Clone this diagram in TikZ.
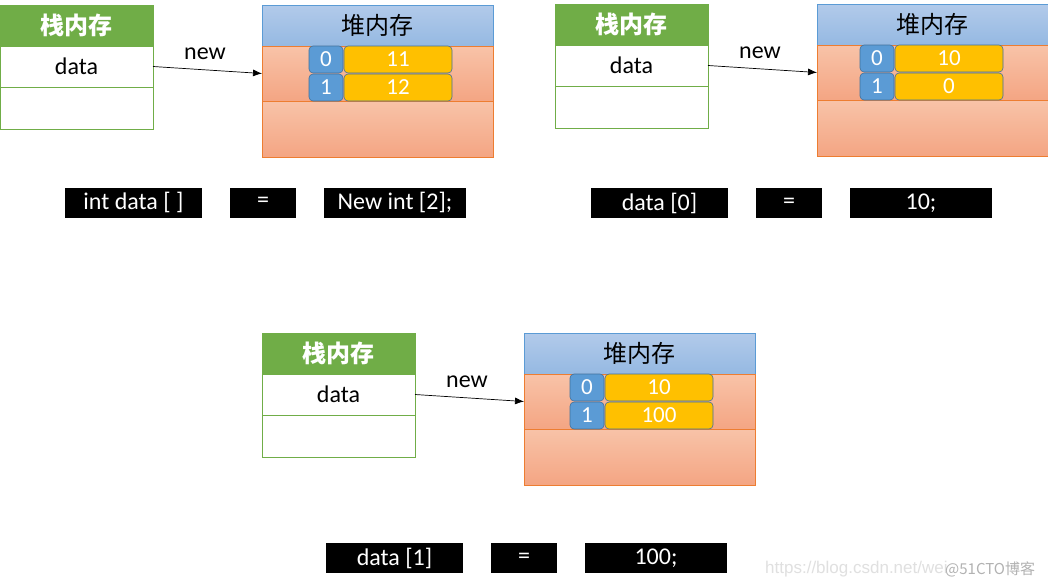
\documentclass[tikz,border=0pt]{standalone}
\usepackage{fontspec}
\usetikzlibrary{arrows.meta}
\setmainfont{Carlito}
\newfontfamily\cjk{Noto Sans CJK SC}
\definecolor{sgreen}{HTML}{70AD47}
\definecolor{hblue}{HTML}{5B9BD5}
\definecolor{hbluetop}{HTML}{B2CAEA}
\definecolor{hbluebot}{HTML}{95B9E2}
\definecolor{horange}{HTML}{ED7D31}
\definecolor{pinktop}{HTML}{F8C3A8}
\definecolor{pinkbot}{HTML}{F4A583}
\definecolor{cellborder}{HTML}{41719C}
\definecolor{cgold}{HTML}{FFC000}
\tikzset{
  base/.style={inner sep=0pt, outer sep=0pt, anchor=north west, font=\fontsize{24}{27}\selectfont},
  stackhead/.style={base, fill=sgreen, draw=sgreen, line width=0.8pt, text=white, minimum width=153pt, minimum height=41pt, font=\cjk\bfseries\fontsize{24}{27}\selectfont},
  stackrow/.style={base, fill=white, draw=sgreen, line width=0.8pt, minimum width=153pt, minimum height=41pt},
  heaphead/.style={base, draw=hblue, line width=0.8pt, top color=hbluetop, bottom color=hbluebot, minimum width=231pt, minimum height=41pt, font=\cjk\fontsize{24}{27}\selectfont},
  heapband/.style={base, draw=horange, line width=0.8pt, top color=pinktop, bottom color=pinkbot, minimum width=231pt},
  idxcell/.style={base, fill=hblue, draw=cellborder, line width=0.6pt, rounded corners=4pt, text=white, minimum width=34pt, minimum height=27pt, font=\fontsize{23}{26}\selectfont},
  valcell/.style={base, fill=cgold, draw=cellborder, line width=0.6pt, rounded corners=4pt, text=white, minimum width=108pt, minimum height=27pt, font=\fontsize{23}{26}\selectfont},
  codebox/.style={inner sep=0pt, fill=black, text=white, minimum height=30pt, font=\fontsize{24}{27}\selectfont},
  ptr/.style={-{Latex[length=9pt,width=7pt]}, line width=0.7pt},
  lbl/.style={inner sep=0pt, font=\fontsize{24}{27}\selectfont}
}
\newcommand\mempanel[6]{%
\begin{scope}[shift={(#2,#3)}]
  \node[stackhead] (#1sh) at (0,0) {栈内存};
  \node[stackrow] (#1data) at (0,41) {data};
  \node[stackrow, minimum height=42pt] (#1empty) at (0,82) {};
  \node[heaphead] (#1hh) at (262,0) {堆内存};
  \node[heapband, minimum height=55pt] (#1b1) at (262,41) {};
  \node[heapband, minimum height=56pt] (#1b2) at (262,96) {};
  \node[idxcell] (#1i0) at (262+#4,41) {0};
  \node[valcell] (#1v0) at (262+#4+35,41) {#5};
  \node[idxcell] (#1i1) at (262+#4,69) {1};
  \node[valcell] (#1v1) at (262+#4+35,69) {#6};
  \draw[ptr] (#1data.east) -- (#1b1.west);
  \node[lbl] (#1new) at (205,49) {new};
\end{scope}}
\begin{document}
\begin{tikzpicture}[x=1pt,y=-1pt]
\useasboundingbox[fill=white] (0,0) rectangle (1048,587);
\mempanel{p}{0}{5}{47}{11}{12}
\mempanel{q}{555}{4}{43}{10}{0}
\mempanel{r}{262}{333}{46}{10}{100}
% code lines
\node[codebox, minimum width=137pt] (c1a) at (133.5,202.5) {int data [ ]};
\node[codebox, minimum width=66pt] (c1b) at (263,202.5) {=};
\node[codebox, minimum width=142pt] (c1c) at (395,202.5) {New int [2];};
\node[codebox, minimum width=137pt] (c2a) at (659.5,203) {data [0]};
\node[codebox, minimum width=66pt] (c2b) at (789,203) {=};
\node[codebox, minimum width=142pt] (c2c) at (921,203) {10;};
\node[codebox, minimum width=137pt] (c3a) at (394.5,558) {data [1]};
\node[codebox, minimum width=66pt] (c3b) at (524,558) {=};
\node[codebox, minimum width=142pt] (c3c) at (656,558) {100;};
% watermark
\node[inner sep=0pt, anchor=west, text=black!12, font=\fontspec{Liberation Sans}\fontsize{17}{19}\selectfont] (wm1) at (765,569) {https://blog.csdn.net/wei};
\node[inner sep=0pt, anchor=west, text=black!30, font=\cjk\fontsize{15}{17}\selectfont] (wm2) at (945,569) {@51CTO博客};
\end{tikzpicture}
\end{document}
